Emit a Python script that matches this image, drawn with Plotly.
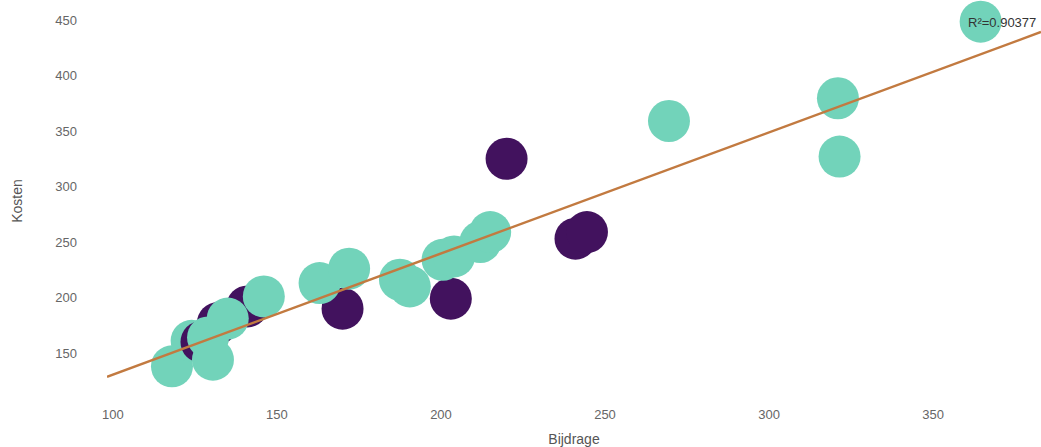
import numpy as np
import plotly.graph_objects as go

# Data (Bijdrage, Kosten)
teal_x = [118, 124, 129, 130.5, 135, 146, 163, 172, 187.5, 190.5, 200.5, 204, 212, 215, 269.5, 321, 321.5, 364.5]
teal_y = [138, 161, 164, 144, 181, 201, 213, 226, 216, 210, 234, 237, 250, 259, 359, 379.5, 327, 448.5]
purple_x = [127, 132, 141, 170, 203, 220, 241, 244.5]
purple_y = [160, 177, 192, 190, 199, 325, 253, 259]

r2_text = "R²=0.90377"
x_range = [98.2, 382.9]
y_range = [105.9, 468.0]
x_ticks = [100, 150, 200, 250, 300, 350]
y_ticks = [150, 200, 250, 300, 350, 400, 450]

# teal points drawn underneath the purple ones (stacking order seen in the picture)
teal_behind = [0, 1]

TEAL = "#72D3BA"
PURPLE = "#42125E"
LINE = "#C27A40"

all_x = np.array(teal_x + purple_x, dtype=float)
all_y = np.array(teal_y + purple_y, dtype=float)
slope, intercept = np.polyfit(all_x, all_y, 1)
line_x = np.array(x_range)
line_y = intercept + slope * line_x

back_x = [teal_x[i] for i in teal_behind]
back_y = [teal_y[i] for i in teal_behind]
front_x = [v for i, v in enumerate(teal_x) if i not in teal_behind]
front_y = [v for i, v in enumerate(teal_y) if i not in teal_behind]

fig = go.Figure()
fig.add_trace(go.Scatter(x=back_x, y=back_y, mode="markers",
                         marker=dict(size=42, color=TEAL, line=dict(width=0)),
                         showlegend=False, hoverinfo="x+y"))
fig.add_trace(go.Scatter(x=purple_x, y=purple_y, mode="markers",
                         marker=dict(size=42, color=PURPLE, line=dict(width=0)),
                         showlegend=False, hoverinfo="x+y"))
fig.add_trace(go.Scatter(x=front_x, y=front_y, mode="markers",
                         marker=dict(size=42, color=TEAL, line=dict(width=0)),
                         showlegend=False, hoverinfo="x+y"))
fig.add_trace(go.Scatter(x=line_x, y=line_y, mode="lines",
                         line=dict(color=LINE, width=2.5),
                         showlegend=False, hoverinfo="skip"))

fig.add_annotation(x=1, y=1, xref="paper", yref="paper", text=r2_text,
                   showarrow=False, xanchor="right", yanchor="top",
                   xshift=-3, yshift=-13,
                   font=dict(family="Liberation Sans, Arial, sans-serif", size=13, color="#333333"))

tick_font = dict(family="Liberation Sans, Arial, sans-serif", size=13, color="#666666")
title_font = dict(family="Liberation Sans, Arial, sans-serif", size=14, color="#555555")

fig.update_layout(
    width=1041, height=447,
    margin=dict(l=107, r=0, t=0, b=45),
    paper_bgcolor="white", plot_bgcolor="white",
    xaxis=dict(range=x_range, tickvals=x_ticks, showgrid=False, zeroline=False,
               showline=False, tickfont=tick_font, ticklabelstandoff=3,
               title=dict(text="Bijdrage", font=title_font, standoff=14)),
    yaxis=dict(range=y_range, tickvals=y_ticks, showgrid=False, zeroline=False,
               showline=False, tickfont=tick_font, ticklabelstandoff=29,
               title=dict(text="Kosten", font=title_font, standoff=29)),
)
fig.update_xaxes(automargin=False)
fig.update_yaxes(automargin=False)

fig.write_html("out.html", config={"displayModeBar": False},
               post_script="document.body.style.margin='0';document.body.style.padding='0';")
